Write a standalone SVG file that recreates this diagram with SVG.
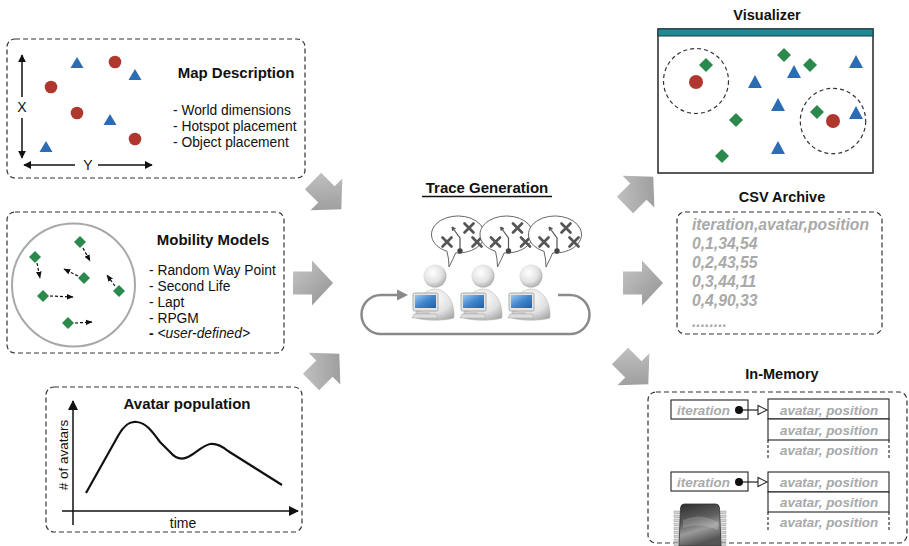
<svg xmlns="http://www.w3.org/2000/svg" width="909" height="546" viewBox="0 0 909 546">
  <style>
    text { font-family: "Liberation Sans", Arial, Helvetica, sans-serif; fill: #111; }
    .title { font-size: 15px; font-weight: bold; }
    .rtitle { font-size: 14.5px; font-weight: bold; }
    .item { font-size: 13.8px; }
    .box { fill: #fff; stroke: #333; stroke-width: 1.2; stroke-dasharray: 5 3; }
    .red { fill: #b0372d; }
    .blue { fill: #2b6cb3; }
    .green { fill: #2b8a4b; }
    .axis { stroke: #111; stroke-width: 1.5; fill: none; }
    .mv { stroke: #111; stroke-width: 1.2; stroke-dasharray: 3 2; fill: none; }
    .csv { font-size: 15.7px; font-weight: bold; font-style: italic; fill: #a9a9a9; }
    .mem { font-size: 13.4px; font-weight: bold; font-style: italic; fill: #a9a9a9; }
    .cell { fill: #fff; stroke: #222; stroke-width: 1.1; }
    .open { fill: none; stroke: #222; stroke-width: 1.1; stroke-dasharray: 3 2; }
    .big { fill: url(#bigGrad); }
    .xmark { stroke: #555; stroke-width: 2.7; stroke-linecap: round; fill: none; }
  </style>
  <defs>
    <linearGradient id="bigGrad" x1="0" y1="0" x2="1" y2="1">
      <stop offset="0" stop-color="#c6c6c6"/>
      <stop offset="1" stop-color="#929292"/>
    </linearGradient>
    <radialGradient id="headGrad" cx="0.4" cy="0.35" r="0.7">
      <stop offset="0" stop-color="#ffffff"/>
      <stop offset="0.6" stop-color="#e2e2e2"/>
      <stop offset="1" stop-color="#a8a8a8"/>
    </radialGradient>
    <radialGradient id="bodyGrad" cx="0.45" cy="0.3" r="0.8">
      <stop offset="0" stop-color="#ffffff"/>
      <stop offset="0.6" stop-color="#e0e0e0"/>
      <stop offset="1" stop-color="#a5a5a5"/>
    </radialGradient>
    <linearGradient id="screenGrad" x1="0" y1="0" x2="1" y2="1">
      <stop offset="0" stop-color="#9cc8ee"/>
      <stop offset="0.5" stop-color="#3f86cf"/>
      <stop offset="1" stop-color="#1f5ea8"/>
    </linearGradient>
    <linearGradient id="chipGrad" x1="0" y1="0" x2="0.3" y2="1">
      <stop offset="0" stop-color="#2c2c2c"/>
      <stop offset="0.45" stop-color="#5e5e5e"/>
      <stop offset="0.7" stop-color="#9a9a9a"/>
      <stop offset="1" stop-color="#555"/>
    </linearGradient>
    <marker id="ah" viewBox="0 0 10 10" refX="9" refY="5" markerWidth="8" markerHeight="8" markerUnits="userSpaceOnUse" orient="auto">
      <path d="M0,0 L10,5 L0,10 Z" fill="#111"/>
    </marker>
    <marker id="ahBig" viewBox="0 0 10 10" refX="9" refY="5" markerWidth="10" markerHeight="10" markerUnits="userSpaceOnUse" orient="auto">
      <path d="M0,0 L10,5 L0,10 Z" fill="#111"/>
    </marker>
    <marker id="ahSmall" viewBox="0 0 10 10" refX="9" refY="5" markerWidth="7" markerHeight="7" markerUnits="userSpaceOnUse" orient="auto">
      <path d="M0,1 L10,5 L0,9 Z" fill="#111"/>
    </marker>
    <!-- block arrow pointing right, tail centre at origin -->
    <path id="blk" class="big" d="M0,-11.5 H19 V-22.5 L40,0 L19,22.5 V11.5 H0 Z"/>
    <!-- thought bubble centred at origin -->
    <g id="bubble">
      <path d="M-11,16.3 Q-9,24 -9,32 Q-5,24 -2.3,17.9 A26.5,18.5 0 1 0 -11,16.3 Z" fill="#fff" stroke="#666" stroke-width="1"/>
      <path class="xmark" d="M-15.5,2.5 l9,9 m0,-9 l-9,9"/>
      <path class="xmark" d="M6.5,-11.5 l9,9 m0,-9 l-9,9"/>
      <path class="xmark" d="M14.5,2.5 l9,9 m0,-9 l-9,9"/>
      <path d="M2,16 V3 L-6,-8 M-6,-8 l0.8,3.9 M-6,-8 l3.5,1.9" stroke="#555" stroke-width="1.2" fill="none"/>
      <circle cx="2" cy="16" r="2.7" fill="#444"/>
    </g>
    <!-- user at a workstation, head centred at origin -->
    <g id="user">
      <path d="M-19,42 C-20,27 -13,14 0,13 C13,14 20,27 19,42 C10,45 -10,45 -19,42 Z" fill="url(#bodyGrad)" stroke="#bdbdbd" stroke-width="0.6"/>
      <circle cx="0" cy="0" r="11.5" fill="url(#headGrad)"/>
      <rect x="-22" y="17" width="25" height="18" rx="1.5" fill="#e4e4e4" stroke="#9a9a9a" stroke-width="0.8"/>
      <rect x="-20" y="19" width="21" height="13" fill="url(#screenGrad)"/>
      <path d="M-12,35 H-6 L-5,38 H-13 Z" fill="#c9c9c9"/>
      <path d="M-21,38 H1 L3,42 H-23 Z" fill="#dedede" stroke="#aaa" stroke-width="0.6"/>
    </g>
  </defs>

  <!-- flow arrows -->
  <g id="connectors">
    <use href="#blk" transform="translate(313,181) rotate(45)"/>
    <use href="#blk" transform="translate(293,283)"/>
    <use href="#blk" transform="translate(311,382) rotate(-45)"/>
    <use href="#blk" transform="translate(625,205) rotate(-45)"/>
    <use href="#blk" transform="translate(623,283)"/>
    <use href="#blk" transform="translate(620,356) rotate(45)"/>
  </g>

  <!-- map description -->
  <g id="map-description">
    <rect class="box" x="7" y="39" width="298" height="139" rx="8"/>
    <line class="axis" x1="22" y1="97" x2="22" y2="55" marker-end="url(#ah)"/>
    <line class="axis" x1="22" y1="118" x2="22" y2="158" marker-end="url(#ah)"/>
    <text x="22" y="112" font-size="14" text-anchor="middle">X</text>
    <line class="axis" x1="75" y1="165" x2="24" y2="165" marker-end="url(#ah)"/>
    <line class="axis" x1="98" y1="165" x2="152" y2="165" marker-end="url(#ah)"/>
    <text x="88" y="170" font-size="14" text-anchor="middle">Y</text>
    <path class="blue" d="M77,57 L83.5,68 H70.5 Z"/>
    <path class="blue" d="M135,69 L141.5,80 H128.5 Z"/>
    <path class="blue" d="M110,114 L116.5,125 H103.5 Z"/>
    <path class="blue" d="M46,141 L52.5,152 H39.5 Z"/>
    <circle class="red" cx="115" cy="62" r="6.3"/>
    <circle class="red" cx="51" cy="87" r="6.3"/>
    <circle class="red" cx="77" cy="113" r="6.3"/>
    <circle class="red" cx="135" cy="139" r="6.3"/>
    <text class="title" x="236" y="78" text-anchor="middle">Map Description</text>
    <text class="item" x="173" y="115">- World dimensions</text>
    <text class="item" x="173" y="131">- Hotspot placement</text>
    <text class="item" x="173" y="147">- Object placement</text>
  </g>

  <!-- mobility models -->
  <g id="mobility-models">
    <rect class="box" x="7" y="212" width="277" height="141" rx="8"/>
    <circle cx="73.5" cy="285" r="61.5" fill="none" stroke="#a8a8a8" stroke-width="2"/>
    <line class="mv" x1="83" y1="248" x2="90" y2="261" marker-end="url(#ahSmall)"/>
    <line class="mv" x1="37" y1="263" x2="40" y2="278" marker-end="url(#ahSmall)"/>
    <line class="mv" x1="78" y1="276" x2="64" y2="269" marker-end="url(#ahSmall)"/>
    <line class="mv" x1="115" y1="286" x2="107" y2="275" marker-end="url(#ahSmall)"/>
    <line class="mv" x1="50" y1="296" x2="73" y2="297" marker-end="url(#ahSmall)"/>
    <line class="mv" x1="75" y1="323" x2="92" y2="322" marker-end="url(#ahSmall)"/>
    <path class="green" d="M80,236 l6,6 l-6,6 l-6,-6 Z"/>
    <path class="green" d="M35,251 l6,6 l-6,6 l-6,-6 Z"/>
    <path class="green" d="M84,272 l6,6 l-6,6 l-6,-6 Z"/>
    <path class="green" d="M119,285 l6,6 l-6,6 l-6,-6 Z"/>
    <path class="green" d="M43,290 l6,6 l-6,6 l-6,-6 Z"/>
    <path class="green" d="M68,317 l6,6 l-6,6 l-6,-6 Z"/>
    <text class="title" x="213" y="245" text-anchor="middle">Mobility Models</text>
    <text class="item" x="149" y="275">- Random Way Point</text>
    <text class="item" x="149" y="291">- Second Life</text>
    <text class="item" x="149" y="307">- Lapt</text>
    <text class="item" x="149" y="323">- RPGM</text>
    <text class="item" x="149" y="338"><tspan font-weight="bold">-</tspan> <tspan font-style="italic">&lt;user-defined&gt;</tspan></text>
  </g>

  <!-- avatar population -->
  <g id="avatar-population">
    <rect class="box" x="46" y="387" width="256" height="145" rx="8"/>
    <line class="axis" x1="73" y1="525" x2="73" y2="401" marker-end="url(#ahBig)"/>
    <line class="axis" x1="62" y1="511" x2="298" y2="511" marker-end="url(#ahBig)"/>
    <path d="M86,493 L118,436 C125,423 131,421 137,422 C146,423 152,431 160,442 L170,452 C176,459 182,460 188,457 C196,453 202,446 210,444 C216,443 222,446 228,451 L282,485" fill="none" stroke="#111" stroke-width="2.2" stroke-linejoin="round"/>
    <text class="title" x="187" y="409" text-anchor="middle">Avatar population</text>
    <text x="183" y="528" font-size="14" text-anchor="middle">time</text>
    <text x="68" y="455" font-size="13.5" text-anchor="middle" transform="rotate(-90 68 455)"># of avatars</text>
  </g>

  <!-- trace generation -->
  <g id="trace-generation">
    <text class="title" x="487" y="193" font-size="15.5" text-anchor="middle">Trace Generation</text>
    <line x1="422" y1="196.5" x2="552" y2="196.5" stroke="#111" stroke-width="1.3"/>
    <path d="M558,295 H570 A19.5,19.5 0 0 1 570,334 H381 A19.5,19.5 0 0 1 381,295 H398" fill="none" stroke="#8a8a8a" stroke-width="2.5"/>
    <path d="M397,289.5 L408,295 L397,300.5 Z" fill="#8a8a8a"/>
    <use href="#bubble" transform="translate(458,235)"/>
    <use href="#bubble" transform="translate(506.5,235)"/>
    <use href="#bubble" transform="translate(555,235)"/>
    <use href="#user" transform="translate(435,276)"/>
    <use href="#user" transform="translate(483,276)"/>
    <use href="#user" transform="translate(531,276)"/>
  </g>

  <!-- visualizer -->
  <g id="visualizer">
    <text class="rtitle" x="767" y="20" text-anchor="middle">Visualizer</text>
    <rect x="658" y="29" width="215" height="144" fill="#fff" stroke="#333" stroke-width="1.6"/>
    <rect x="658" y="29" width="215" height="7" fill="#1f8a96" stroke="#1d3b40" stroke-width="1"/>
    <circle cx="696" cy="81" r="32.5" fill="none" stroke="#333" stroke-width="1.2" stroke-dasharray="4 3"/>
    <circle cx="833" cy="121" r="32.7" fill="none" stroke="#333" stroke-width="1.2" stroke-dasharray="4 3"/>
    <circle class="red" cx="696" cy="82" r="7"/>
    <circle class="red" cx="833" cy="121" r="7"/>
    <path class="green" d="M706,58 l7,7 l-7,7 l-7,-7 Z"/>
    <path class="green" d="M784,48 l7,7 l-7,7 l-7,-7 Z"/>
    <path class="green" d="M810,58 l7,7 l-7,7 l-7,-7 Z"/>
    <path class="green" d="M736,113 l7,7 l-7,7 l-7,-7 Z"/>
    <path class="green" d="M817,105 l7,7 l-7,7 l-7,-7 Z"/>
    <path class="green" d="M722,149 l7,7 l-7,7 l-7,-7 Z"/>
    <path class="blue" d="M755,75 L762,88 H748 Z"/>
    <path class="blue" d="M794,65 L801,78 H787 Z"/>
    <path class="blue" d="M856,55 L863,68 H849 Z"/>
    <path class="blue" d="M778,98 L785,111 H771 Z"/>
    <path class="blue" d="M856,106 L863,119 H849 Z"/>
    <path class="blue" d="M778,141 L785,154 H771 Z"/>
  </g>

  <!-- csv archive -->
  <g id="csv-archive">
    <text class="rtitle" x="782" y="202" text-anchor="middle">CSV Archive</text>
    <rect class="box" x="677" y="212" width="205" height="122" rx="8"/>
    <text class="csv" x="692" y="230">iteration,avatar,position</text>
    <text class="csv" x="692" y="249">0,1,34,54</text>
    <text class="csv" x="692" y="268">0,2,43,55</text>
    <text class="csv" x="692" y="287">0,3,44,11</text>
    <text class="csv" x="692" y="306">0,4,90,33</text>
    <text class="csv" x="692" y="327">........</text>
  </g>

  <!-- in-memory -->
  <g id="in-memory">
    <text class="rtitle" x="782" y="379" text-anchor="middle">In-Memory</text>
    <rect class="box" x="648" y="392" width="259" height="151" rx="8"/>
    <rect class="cell" x="671" y="400" width="77" height="19"/>
    <text class="mem" x="677" y="414.5">iteration</text>
    <line x1="739" y1="410" x2="758" y2="410" stroke="#222" stroke-width="1.2"/>
    <path d="M758,405.5 L767,410 L758,414.5 Z" fill="#fff" stroke="#222" stroke-width="1.1"/>
    <circle cx="739" cy="410" r="4" fill="#111"/>
    <rect class="cell" x="768" y="399" width="121" height="20"/>
    <rect class="cell" x="768" y="419" width="121" height="21"/>
    <path class="open" d="M768,440 V460 M889,440 V460"/>
    <text class="mem" x="780" y="415">avatar, position</text>
    <text class="mem" x="780" y="434.5">avatar, position</text>
    <text class="mem" x="780" y="455">avatar, position</text>

    <rect class="cell" x="671" y="472" width="77" height="19"/>
    <text class="mem" x="677" y="486.5">iteration</text>
    <line x1="739" y1="482" x2="758" y2="482" stroke="#222" stroke-width="1.2"/>
    <path d="M758,477.5 L767,482 L758,486.5 Z" fill="#fff" stroke="#222" stroke-width="1.1"/>
    <circle cx="739" cy="482" r="4" fill="#111"/>
    <rect class="cell" x="768" y="472" width="121" height="20"/>
    <rect class="cell" x="768" y="492" width="121" height="20"/>
    <path class="open" d="M768,512 V532 M889,512 V532"/>
    <text class="mem" x="780" y="487">avatar, position</text>
    <text class="mem" x="780" y="506.5">avatar, position</text>
    <text class="mem" x="780" y="527">avatar, position</text>

    <!-- memory chip -->
    <g id="chip">
      <g fill="#d2d2d2" stroke="#9a9a9a" stroke-width="0.5">
        <rect x="674" y="511" width="7" height="2.6"/>
        <rect x="674" y="515" width="7" height="2.6"/>
        <rect x="674" y="519" width="7" height="2.6"/>
        <rect x="674" y="523" width="7" height="2.6"/>
        <rect x="674" y="527" width="7" height="2.6"/>
        <rect x="674" y="531" width="7" height="2.6"/>
        <rect x="674" y="535" width="7" height="2.6"/>
        <rect x="674" y="539" width="7" height="2.6"/>
        <rect x="674" y="543" width="7" height="2.6"/>
        <rect x="719" y="511" width="7" height="2.6"/>
        <rect x="719" y="515" width="7" height="2.6"/>
        <rect x="719" y="519" width="7" height="2.6"/>
        <rect x="719" y="523" width="7" height="2.6"/>
        <rect x="719" y="527" width="7" height="2.6"/>
        <rect x="719" y="531" width="7" height="2.6"/>
        <rect x="719" y="535" width="7" height="2.6"/>
        <rect x="719" y="539" width="7" height="2.6"/>
        <rect x="719" y="543" width="7" height="2.6"/>
      </g>
      <path d="M684,504 H716 Q719,504 719.5,508 L721,546 H679 L680.5,508 Q681,504 684,504 Z" fill="url(#chipGrad)" stroke="#333" stroke-width="0.8"/>
      <path d="M683,520 Q700,512 718,522 L718,530 Q700,522 683,528 Z" fill="#fff" opacity="0.18"/>
    </g>
  </g>
</svg>
